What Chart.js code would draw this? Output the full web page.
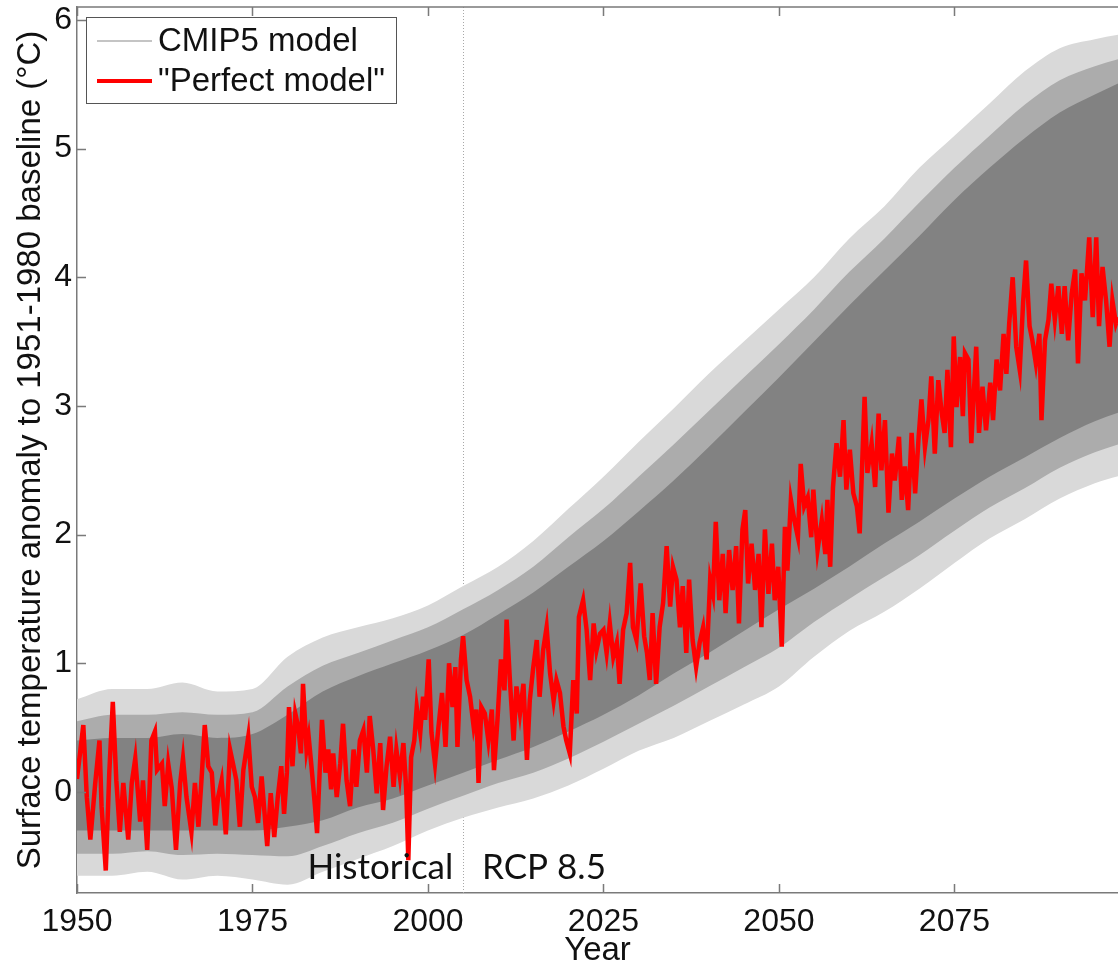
<!DOCTYPE html>
<html>
<head>
<meta charset="utf-8">
<script src="https://cdn.jsdelivr.net/npm/chart.js@4.4.0/dist/chart.umd.min.js"></script>
<style>
  html, body { margin: 0; padding: 0; background: #ffffff; }
  #wrap { width: 1118px; height: 966px; position: relative; }
</style>
</head>
<body>
<div id="wrap"><canvas id="c" width="1118" height="966"></canvas></div>
<script>
// ---------------- data ----------------
const seriesNames = ['CMIP5 model', '"Perfect model"'];
const xTickValues = [1950, 1975, 2000, 2025, 2050, 2075];
const yTickValues = [0, 1, 2, 3, 4, 5, 6];
const xRange = [1950, 2098.3];
const yRange = [-0.785, 6.1];
const xAxisTitle = 'Year';
const yAxisTitle = 'Surface temperature anomaly to 1951-1980 baseline (\u00B0C)';
const periodLabels = ['Historical', 'RCP 8.5'];
const periodLabelYears = [2003.6, 2007.7];
const periodLabelTemp = -0.68;
const scenarioStartYear = 2005;

// CMIP5 ensemble spread (dense core, medium zone, outer extremes), every 5 years
const envYears = [1950,1955,1960,1965,1970,1975,1980,1985,1990,1995,2000,2005,2010,2015,2020,2025,
                  2030,2035,2040,2045,2050,2055,2060,2065,2070,2075,2080,2085,2090,2095,2100];
const cmipUpperCore = [0.40,0.42,0.42,0.45,0.42,0.45,0.60,0.78,0.90,1.00,1.10,1.22,1.38,1.55,1.75,1.95,
                       2.18,2.42,2.68,2.95,3.22,3.50,3.78,4.05,4.32,4.60,4.85,5.08,5.28,5.42,5.55];
const cmipLowerCore = [-0.30,-0.30,-0.30,-0.30,-0.30,-0.30,-0.27,-0.22,-0.12,-0.05,0.05,0.15,0.25,0.35,0.47,0.60,
                       0.75,0.92,1.08,1.25,1.42,1.58,1.75,1.93,2.10,2.28,2.45,2.60,2.75,2.88,2.98];
const cmipUpperMid = [0.55,0.60,0.60,0.62,0.60,0.62,0.82,0.98,1.08,1.18,1.28,1.42,1.57,1.75,1.98,2.20,
                      2.45,2.70,2.96,3.22,3.48,3.75,4.04,4.30,4.58,4.85,5.10,5.34,5.53,5.64,5.72];
const cmipLowerMid = [-0.48,-0.48,-0.46,-0.49,-0.48,-0.49,-0.50,-0.42,-0.32,-0.24,-0.13,-0.03,0.07,0.15,0.26,0.39,
                      0.53,0.67,0.82,0.97,1.12,1.32,1.50,1.67,1.84,2.03,2.21,2.36,2.52,2.64,2.73];
const cmipUpperExt = [0.72,0.80,0.80,0.85,0.78,0.80,1.05,1.20,1.28,1.35,1.45,1.60,1.75,1.95,2.20,2.45,
                      2.72,2.98,3.25,3.50,3.75,4.00,4.30,4.55,4.85,5.10,5.35,5.60,5.78,5.85,5.90];
const cmipLowerExt = [-0.65,-0.65,-0.62,-0.68,-0.65,-0.68,-0.72,-0.62,-0.52,-0.42,-0.30,-0.20,-0.12,-0.05,0.05,0.18,
                      0.32,0.42,0.55,0.68,0.82,1.05,1.25,1.40,1.58,1.78,1.97,2.12,2.28,2.40,2.48];

// "Perfect model" run
const perfectYears = [
  1950.0,1950.9,1951.4,1951.9,1952.6,1953.2,1953.5,1954.1,1954.6,1955.1,
  1955.6,1956.1,1956.6,1957.3,1957.8,1958.3,1959.0,1959.4,1960.0,1960.6,
  1961.1,1961.4,1962.1,1962.5,1963.0,1963.5,1964.1,1964.7,1965.1,1965.6,
  1966.3,1966.8,1967.3,1967.8,1968.2,1968.7,1969.2,1969.7,1970.1,1970.6,
  1971.2,1971.8,1972.3,1972.7,1973.2,1973.7,
  1974.4,1974.9,1975.35,1975.8,1976.3,1976.8,1977.1,1977.6,1978.1,1978.6,
  1979.1,1979.5,1979.9,1980.2,1980.7,1981.1,1981.5,1981.9,1982.2,1982.7,
  1983.0,1983.4,1983.9,1984.2,1984.6,1984.9,1985.4,1985.8,1986.2,1986.5,
  1987.0,1987.5,1987.9,1988.4,1988.9,1989.4,1989.8,1990.3,1990.8,1991.3,
  1991.7,1992.2,1992.7,1993.2,1993.6,1994.1,1994.6,1995.1,1995.5,1996.0,
  1996.5,1996.9,1997.2,1997.6,1998.05,1998.4,1998.9,1999.3,
  1999.6,2000.1,2000.5,2001.0,2001.5,2002.0,2002.5,2003.0,2003.5,2003.9,
  2004.2,2004.7,2005.0,2005.5,2006.0,2006.5,2006.9,2007.2,2007.6,2008.1,
  2008.6,2009.1,2009.4,2009.9,2010.4,2010.9,2011.2,2011.7,2012.2,2012.6,
  2013.1,2013.6,2014.1,2014.5,2015.0,2015.5,2015.9,2016.4,2016.9,2017.4,
  2017.9,2018.3,2018.8,2019.3,2019.7,2020.2,2020.7,2021.2,2021.5,2022.1,
  2022.6,2023.1,2023.6,2024.0,2024.5,
  2025.0,2025.45,2025.9,2026.4,2026.9,2027.3,2027.8,2028.3,2028.8,2029.2,
  2029.7,2030.3,2030.8,2031.2,2031.6,2032.0,2032.5,2033.0,2033.5,2034.0,
  2034.5,2034.9,2035.4,2035.9,2036.3,2036.8,2037.2,2037.7,2038.2,2038.7,
  2039.2,2039.7,2040.2,2040.6,2041.0,2041.5,2042.0,2042.4,2042.9,2043.4,
  2043.9,2044.3,2044.8,2045.2,2045.6,2046.1,2046.6,2047.1,2047.5,2048.0,
  2048.5,2049.0,2049.4,2049.9,2050.4,
  2050.85,2051.2,2051.7,2052.2,2052.7,2053.1,2053.6,2054.1,2054.6,2054.9,
  2055.5,2056.1,2056.6,2056.9,2057.3,2057.7,2058.2,2058.7,2059.2,2059.6,
  2060.1,2060.6,2061.1,2061.5,2062.2,2062.6,2063.2,2063.7,2064.2,2064.6,
  2065.1,2065.6,2066.1,2066.5,2067.1,2067.5,2067.95,2068.4,2068.9,2069.4,
  2069.9,2070.3,2070.8,2071.3,2071.7,2072.2,2072.7,2073.2,2073.6,2074.0,
  2074.5,
  2074.9,2075.3,2075.8,2076.2,2076.5,2077.0,2077.4,2078.1,2078.5,2079.0,
  2079.5,2080.1,2080.5,2081.0,2081.5,2082.0,2082.4,2082.8,2083.3,2083.8,
  2084.3,2084.8,2085.2,2085.7,2086.1,2086.6,2087.1,2087.4,2087.9,2088.4,
  2088.8,2089.3,2089.8,2090.3,2090.7,2091.2,2091.7,2092.2,2092.6,2093.1,
  2093.6,2094.2,2094.7,2095.2,2095.6,2096.1,2096.6,2097.1,2097.5,2098.0,
  2098.3
];
const perfectTemps = [
  0.10,0.52,-0.04,-0.37,0.07,0.40,-0.11,-0.61,0.15,0.70,
  0.09,-0.31,0.07,-0.37,0.07,0.26,-0.23,0.09,-0.45,0.40,
  0.47,0.17,0.22,-0.11,0.22,0.03,-0.45,0.07,0.26,-0.04,
  -0.31,0.07,-0.27,0.15,0.52,0.20,0.15,-0.26,-0.04,0.09,
  -0.33,0.33,0.20,0.09,-0.27,0.17,
  0.43,0.04,-0.04,-0.24,0.12,-0.22,-0.42,-0.01,-0.35,-0.04,
  0.20,-0.17,0.15,0.66,0.20,0.61,0.51,0.30,0.84,0.33,
  0.43,0.20,-0.11,-0.32,0.20,0.56,0.15,0.33,0.02,0.30,
  -0.04,0.22,0.53,0.09,-0.11,0.33,0.04,0.40,0.48,0.15,
  0.59,0.33,-0.01,0.38,-0.14,0.20,0.43,0.04,0.33,0.12,
  0.38,0.02,-0.53,0.27,0.40,0.66,0.46,0.74,
  0.56,1.03,0.46,0.22,0.51,0.77,0.35,1.00,0.66,0.97,
  0.35,1.03,1.21,0.87,0.74,0.51,0.64,0.07,0.66,0.61,
  0.40,0.64,0.17,0.56,1.03,0.79,1.34,0.84,0.40,0.82,
  0.61,0.84,0.25,0.71,0.97,1.18,0.74,1.10,1.28,0.92,
  0.71,0.87,0.77,0.51,0.40,0.30,0.87,0.61,1.36,1.49,
  1.26,0.87,1.31,1.10,1.23,
  1.26,1.08,1.31,1.05,1.16,0.84,1.26,1.39,1.78,1.28,
  1.18,1.62,1.21,1.08,0.87,1.39,0.84,1.28,1.47,1.91,
  1.44,1.75,1.65,1.28,1.60,1.08,1.65,1.18,0.97,1.16,
  1.28,1.03,1.65,1.54,2.10,1.49,1.85,1.39,1.88,1.57,
  1.91,1.31,2.04,2.19,1.62,1.93,1.57,1.85,1.28,2.04,
  1.54,1.93,1.49,1.75,1.13,
  2.06,1.72,2.27,2.11,1.98,2.55,2.22,2.29,1.98,2.35,
  1.88,2.11,1.85,2.27,1.75,2.37,2.71,2.45,2.89,2.35,
  2.66,2.32,2.22,2.01,3.07,2.48,2.71,2.37,2.94,2.50,
  2.89,2.17,2.63,2.42,2.76,2.27,2.53,2.19,2.79,2.32,
  2.76,3.05,2.68,2.89,3.23,2.63,3.20,2.94,2.79,3.28,
  2.68,
  3.54,2.99,3.38,2.92,3.41,3.36,2.71,3.46,2.79,3.15,
  2.81,3.18,2.89,3.36,3.12,3.56,3.25,3.64,4.00,3.46,
  3.28,3.82,4.13,3.62,3.51,3.33,3.56,2.89,3.51,3.67,
  3.95,3.67,3.93,3.56,3.93,3.51,3.87,4.06,3.33,4.03,
  3.82,4.31,3.69,4.31,3.62,4.08,3.82,3.46,3.82,3.64,
  3.69
];

// ---------------- styles ----------------
const FONT = "'Liberation Sans', Arial, Helvetica, sans-serif";
const AXIS_COLOR = '#7a7a7a';
const CORE_GRAY = '#828282';
const MID_GRAY = '#acacac';
const EXT_GRAY = '#d9d9d9';
const RED = '#ff0000';

const pairs = (xs, ys) => xs.map((x, i) => ({ x: x, y: ys[i] }));

const bandPair = (name, hi, lo, color, order) => ([
  { label: name + ' high', data: pairs(envYears, hi), borderColor: 'rgba(0,0,0,0)', borderWidth: 0,
    pointRadius: 0, backgroundColor: color, fill: '+1', order: order, cubicInterpolationMode: 'monotone' },
  { label: name + ' low', data: pairs(envYears, lo), borderColor: 'rgba(0,0,0,0)', borderWidth: 0,
    pointRadius: 0, fill: false, order: order, cubicInterpolationMode: 'monotone' }
]);

const decorPlugin = {
  id: 'decor',
  beforeDatasetsDraw(chart) {
    const { ctx, chartArea: a, scales } = chart;
    const px = Math.round(scales.x.getPixelForValue(scenarioStartYear)) + 0.5;
    ctx.save();
    ctx.strokeStyle = '#a8a8a8';
    ctx.lineWidth = 1;
    ctx.setLineDash([1, 2]);
    ctx.beginPath();
    ctx.moveTo(px, a.top);
    ctx.lineTo(px, a.bottom);
    ctx.stroke();
    ctx.restore();
  },
  afterDatasetsDraw(chart) {
    const { ctx, chartArea: a, scales } = chart;
    const xs = scales.x, ys = scales.y;
    ctx.save();
    // period labels
    ctx.fillStyle = '#111';
    ctx.font = "35px Lato, 'Open Sans', sans-serif";
    ctx.textBaseline = 'alphabetic';
    periodLabels.forEach((t, i) => {
      ctx.textAlign = i === 0 ? 'right' : 'left';
      ctx.fillText(t, xs.getPixelForValue(periodLabelYears[i]), ys.getPixelForValue(periodLabelTemp));
    });
    // box top line and inward ticks
    ctx.strokeStyle = AXIS_COLOR;
    ctx.lineWidth = 1.5;
    ctx.beginPath();
    ctx.moveTo(a.left, a.top);
    ctx.lineTo(a.right, a.top);
    xTickValues.forEach(v => {
      const p = Math.round(xs.getPixelForValue(v)) + 0.5;
      ctx.moveTo(p, a.bottom); ctx.lineTo(p, a.bottom - 9);
      ctx.moveTo(p, a.top); ctx.lineTo(p, a.top + 9);
    });
    yTickValues.forEach(v => {
      const p = Math.round(ys.getPixelForValue(v)) + 0.5;
      ctx.moveTo(a.left, p); ctx.lineTo(a.left + 9, p);
    });
    ctx.stroke();

    // legend
    const lx = a.left + 9, ly = a.top + 10, lw = 310, lh = 86;
    ctx.fillStyle = '#ffffff';
    ctx.fillRect(lx, ly, lw, lh);
    ctx.strokeStyle = '#555';
    ctx.lineWidth = 1;
    ctx.strokeRect(lx + 0.5, ly + 0.5, lw, lh);
    const rows = [ly + 24, ly + 64];
    const lineStyles = [{ c: '#c4c4c4', w: 2 }, { c: RED, w: 4 }];
    ctx.font = '33px ' + FONT;
    ctx.textAlign = 'left';
    ctx.textBaseline = 'middle';
    seriesNames.forEach((name, i) => {
      ctx.strokeStyle = lineStyles[i].c;
      ctx.lineWidth = lineStyles[i].w;
      ctx.beginPath();
      ctx.moveTo(lx + 11, rows[i]);
      ctx.lineTo(lx + 66, rows[i]);
      ctx.stroke();
      ctx.fillStyle = '#111';
      ctx.fillText(name, lx + 72, rows[i] + 1);
    });
    ctx.restore();
  }
};

Chart.defaults.font.family = FONT;
Chart.defaults.color = '#111';

new Chart(document.getElementById('c'), {
  type: 'line',
  data: {
    datasets: [
      {
        label: seriesNames[1],
        data: pairs(perfectYears, perfectTemps),
        borderColor: RED, borderWidth: 4.5, pointRadius: 0, fill: false,
        borderJoinStyle: 'miter', order: 0
      },
      ...bandPair(seriesNames[0] + ' core', cmipUpperCore, cmipLowerCore, CORE_GRAY, 1),
      ...bandPair(seriesNames[0] + ' mid', cmipUpperMid, cmipLowerMid, MID_GRAY, 2),
      ...bandPair(seriesNames[0] + ' extreme', cmipUpperExt, cmipLowerExt, EXT_GRAY, 3)
    ]
  },
  options: {
    responsive: false,
    animation: false,
    devicePixelRatio: 1,
    layout: { padding: { top: 7, right: 0, left: 0, bottom: 0 } },
    plugins: { legend: { display: false }, tooltip: { enabled: false } },
    scales: {
      x: {
        type: 'linear', position: 'bottom',
        min: xRange[0], max: xRange[1],
        afterBuildTicks: s => { s.ticks = xTickValues.map(v => ({ value: v })); },
        afterFit: s => { s.height = 73; s.paddingLeft = 0; s.paddingRight = 0; },
        ticks: {
          autoSkip: false, maxRotation: 0, padding: 10, color: '#111',
          font: { size: 32, family: FONT },
          callback: v => String(v)
        },
        grid: { display: true, drawOnChartArea: false, drawTicks: false },
        border: { display: true, color: AXIS_COLOR, width: 1.5 },
        title: {
          display: true, text: xAxisTitle, color: '#111',
          font: { size: 33, family: FONT, lineHeight: 0.9 }, padding: { top: 0, bottom: 0 }
        }
      },
      y: {
        type: 'linear', position: 'left',
        min: yRange[0], max: yRange[1],
        afterBuildTicks: s => { s.ticks = yTickValues.map(v => ({ value: v })); },
        afterFit: s => { s.width = 77; s.paddingTop = 0; s.paddingBottom = 0; },
        ticks: {
          padding: 5, color: '#111',
          font: { size: 32, family: FONT },
          callback: v => String(v)
        },
        grid: { display: true, drawOnChartArea: false, drawTicks: false },
        border: { display: true, color: AXIS_COLOR, width: 1.5 },
        title: {
          display: true, text: yAxisTitle, color: '#111',
          font: { size: 33, family: FONT, lineHeight: 1.2 }, padding: { top: 11, bottom: 0 }
        }
      }
    }
  },
  plugins: [decorPlugin]
});
</script>
</body>
</html>
